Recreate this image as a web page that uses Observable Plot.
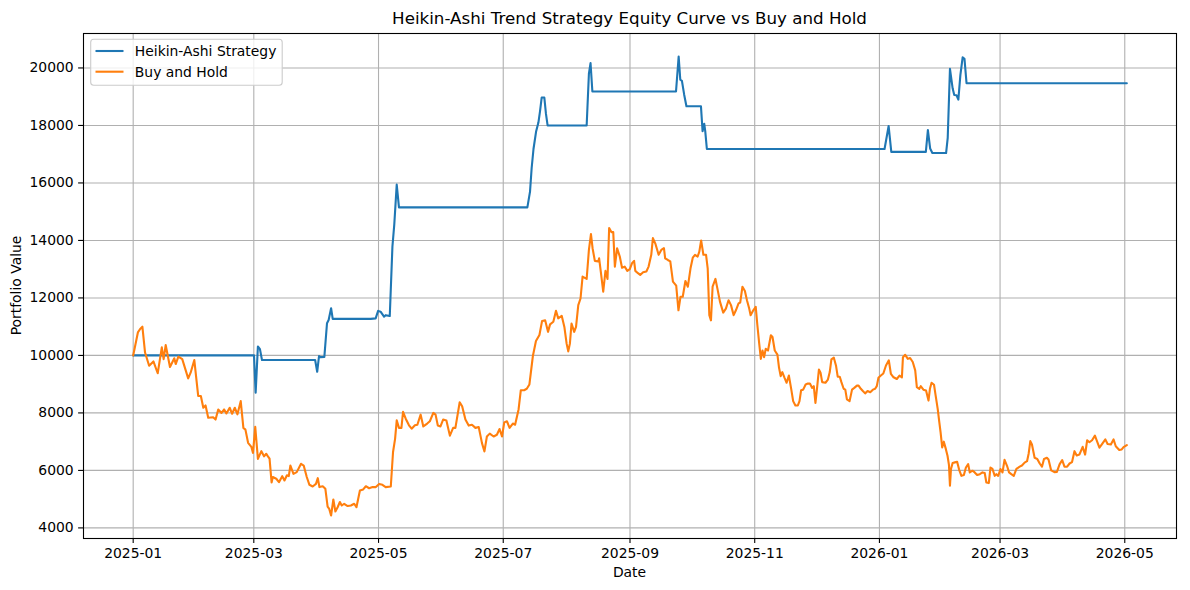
<!DOCTYPE html>
<html>
<head>
<meta charset="utf-8">
<script src="https://cdn.jsdelivr.net/npm/d3@7"></script>
<script src="https://cdn.jsdelivr.net/npm/@observablehq/plot@0.6"></script>
<style>
  html, body { margin: 0; padding: 0; background: #ffffff; }
  #chart svg { display: block; font-family: "DejaVu Sans", sans-serif; }
</style>
</head>
<body>
<div id="chart"></div>
<script>
// ---------------- data ----------------
const titleText = "Heikin-Ashi Trend Strategy Equity Curve vs Buy and Hold";
const xLabel = "Date";
const yLabel = "Portfolio Value";
const startDate = "2025-01-01";          // day 0 of the series
const seriesNames = ["Heikin-Ashi Strategy", "Buy and Hold"];
const seriesColors = ["#1f77b4", "#ff7f0e"];

// [days since startDate, portfolio value]
const strategy = [
  [0,10000],[59.1,10000],[59.9,8700],[61,10310],[62,10220],[63,9840],[89,9840],[90,9430],
  [90.9,9980],[91.6,9940],[93.5,9950],[94.8,11120],[95.6,11230],[96.8,11640],[97.6,11270],
  [116.2,11270],[118.6,11290],[119.8,11550],[121,11520],[122.7,11350],[123.5,11400],[125.5,11370],
  [126.8,13790],[127.7,14550],[128.9,15940],[130,15150],[192.8,15150],[194.1,15700],[194.9,16520],
  [195.8,17180],[197.1,17800],[198.2,18100],[199,18500],[199.8,18970],[201.1,18970],[201.9,18400],
  [202.7,18000],[221.8,18000],[222.9,19800],[223.7,20170],[224.6,19180],[265.5,19180],[266.8,20400],
  [267.6,19590],[268.4,19550],[269.5,19070],[270.6,18670],[277.7,18670],[278.5,17800],[279.3,18060],
  [279.8,17800],[280.6,17180],[367.5,17180],[369.5,17980],[370.8,17080],[387.7,17080],[388.7,17840],
  [389.8,17200],[390.9,17040],[397.6,17040],[398.4,17570],[399.5,19970],[400.8,19290],[401.6,19060],
  [402.7,19050],[403.6,18900],[404.6,19760],[405.7,20370],[406.6,20320],[407.6,19470],[486,19470]
];

const buyHold = [
  [0,10000],[2.3,10800],[3.4,10920],[4.5,11000],[5.8,10100],[7.8,9640],[9.9,9790],[12,9380],
  [14,10280],[14.9,9870],[15.9,10360],[18,9600],[20.1,9900],[20.8,9700],[22.1,9960],[24,9870],
  [26.9,9200],[28.1,9400],[29.9,9840],[31.8,8590],[33.1,8590],[34.3,8180],[35.4,8260],[36.7,7830],
  [39.1,7850],[40.3,7770],[41.6,8120],[43.2,8000],[44.5,8120],[45.6,7980],[47.2,8180],[48.4,7970],
  [49.7,8180],[51,7950],[52.6,8410],[53.9,7480],[54.9,7420],[56.2,6960],[57.8,6820],[58.6,6610],
  [59.7,7520],[61,6400],[62.7,6670],[64,6490],[65.1,6580],[65.9,6490],[66.7,6410],[67.7,5580],
  [68.3,5770],[70,5710],[71.3,5590],[72.9,5800],[74,5650],[75.2,5830],[76.1,5800],[76.9,6170],
  [78.4,5880],[80,5940],[82.1,6230],[83.4,6170],[84.9,5770],[86.2,5500],[87.8,5440],[89.4,5530],
  [90.3,5730],[91.1,5420],[92.7,5450],[94,5360],[95.1,4740],[95.9,4660],[96.8,4430],[97.9,4990],
  [98.9,4570],[100,4720],[101.1,4900],[102,4780],[103.2,4840],[104.9,4760],[106.5,4780],[108.1,4840],
  [109.2,4720],[110.9,5300],[112.5,5340],[113.8,5450],[115.4,5380],[117.1,5420],[118.7,5420],[120.3,5530],
  [121.9,5500],[123.5,5420],[126,5440],[127.1,6640],[128.1,7100],[128.9,7740],[130,7480],[131.2,7480],
  [132,8040],[133.3,7800],[134.9,7570],[136.2,7450],[137.8,7570],[139,7590],[140.6,7940],[141.9,7530],
  [143.8,7630],[145.1,7710],[146.8,8000],[147.9,7940],[149,7560],[150.3,7530],[151.6,7770],[153.2,7740],
  [154.9,7210],[156.5,7480],[157.6,7480],[159.7,8370],[160.9,8230],[162.5,7770],[164.1,7560],[165.7,7590],
  [167.4,7480],[169,7510],[170.6,6950],[171.8,6660],[173,7180],[174.4,7280],[176.3,7180],[177.9,7240],
  [179.2,7440],[180.4,7180],[181.5,7670],[182.8,7710],[184.1,7480],[185.7,7630],[186.8,7590],[188.5,8120],
  [189.6,8790],[191.2,8790],[192.5,8840],[193.8,8990],[195.5,9980],[197,10500],[198.7,10710],[200,11200],
  [201.5,11220],[202.9,10820],[203.9,11080],[205.5,11170],[206.8,11550],[207.9,11290],[209.6,11380],[210.9,10990],
  [212,10410],[212.8,10140],[213.6,10410],[214.4,11110],[215.7,10820],[216.6,10990],[217.7,11750],[218.8,11980],
  [219.8,12740],[221.8,12660],[222.9,13670],[223.9,14220],[224.7,13730],[225.8,13290],[227.5,13270],[227.9,13380],
  [228.7,12920],[229.9,12220],[231,12940],[232,12660],[232.8,14430],[233.9,14290],[234.8,14290],[235.6,13090],
  [236.7,13730],[238,13440],[239.1,13050],[240.4,13090],[241.7,12940],[242.9,13000],[244,13210],[245,13290],
  [245.6,12940],[246.9,12860],[248,12800],[249.4,12890],[251,12920],[252.1,13090],[253.4,13500],[254.2,14080],
  [255.5,13870],[257,13500],[258.3,13670],[259.6,13730],[260.2,13380],[261.5,13320],[262.7,13270],[264,12570],
  [265.6,12430],[266.1,12040],[266.7,11570],[267.7,12040],[268.8,12040],[270.1,12590],[271.3,12390],[272.6,13030],
  [273.7,13400],[274.8,13500],[276.1,13440],[276.9,13610],[277.8,14000],[278.9,13500],[280.2,13500],[281,13030],
  [281.8,11400],[282.6,11220],[283.4,12390],[284.8,12660],[285.9,12270],[287,11870],[288.6,11490],[289.9,11630],
  [291.2,11920],[292.4,11750],[293.7,11400],[294.8,11570],[296.1,11810],[296.9,11840],[298,12390],[299.2,12240],
  [300.2,11920],[301.3,11630],[302,11400],[303.3,11570],[304.5,11690],[305.3,11050],[306.2,10410],[307,9880],
  [307.8,10170],[308.6,9940],[309.4,10230],[310.5,10170],[311.9,10700],[312.7,10640],[313.8,10170],[315.1,10030],
  [315.9,9570],[316.7,9280],[317.5,9420],[318.6,9220],[319.6,9050],[320.7,9300],[321.9,8810],[322.8,8410],
  [323.9,8260],[325.1,8260],[325.9,8410],[326.7,8790],[327.7,8810],[328.9,8990],[330,9020],[331,9020],
  [332.1,8870],[332.9,8930],[333.7,8350],[334.5,8870],[335.4,9510],[336.2,9400],[337,9070],[338.6,9050],
  [339.8,9160],[340.7,9420],[341.5,9860],[342.7,9920],[343.8,9630],[344.6,9260],[345.6,9260],[346.4,9070],
  [347.5,8840],[348.3,8810],[349.1,8470],[350.4,8410],[351.6,8810],[352.7,8870],[354,8950],[354.8,8950],
  [355.9,8840],[356.9,8760],[358,8680],[359.2,8760],[360.5,8720],[361.8,8810],[362.9,8840],[363.7,8930],
  [364.5,9220],[365.7,9300],[366.9,9370],[368.2,9650],[369.6,9830],[370.6,9360],[371.9,9240],[373.5,9180],
  [374.8,9300],[376,9240],[376.5,9940],[377.6,10020],[378.9,9880],[380,9910],[381.3,9770],[382.5,9480],
  [383.3,8900],[384.5,8840],[385.2,8930],[386.5,8810],[387.8,8780],[389,8430],[389.7,8840],[390.5,9050],
  [391.7,8980],[392.5,8600],[393.5,8140],[394.3,7670],[394.9,7330],[395.7,6800],[396.5,7000],[397.5,6740],
  [398.3,6510],[399,6190],[399.5,5470],[400,6050],[400.8,6260],[401.9,6280],[403,6300],[404,6020],
  [405.1,5810],[406.3,5840],[407.3,6100],[408.4,6220],[409.2,5930],[410.5,5990],[411.6,5930],[412.8,5840],
  [414.1,5870],[415.4,5930],[416.5,5910],[417.3,5580],[418.5,5560],[419.3,6100],[420.3,6050],[421.4,5810],
  [422.2,5870],[423.1,5810],[424.2,6050],[425.2,5930],[426.2,6370],[427.4,6160],[428.4,5930],[429.5,5870],
  [430.7,5810],[432,6050],[433.6,6130],[434.7,6170],[436,6270],[437.2,6320],[438,6590],[438.8,7020],
  [439.6,6900],[440.9,6440],[442.2,6400],[443.4,6240],[444.5,6130],[445.5,6400],[446.9,6440],[447.7,6380],
  [449,6000],[450.6,5940],[451.8,5950],[453.1,6210],[454.4,6360],[455.5,6130],[456.8,6130],[458,6240],
  [459.2,6290],[460.4,6670],[461.5,6520],[462.8,6550],[464.4,6820],[465.6,6550],[466.6,7050],[467.7,6980],
  [469,7050],[470.4,7210],[471.4,7020],[472.6,6790],[473.7,6900],[475.5,7080],[476.6,6920],[478.2,6900],
  [479.5,7080],[480.6,6840],[482.3,6710],[483.5,6730],[484.4,6810],[486,6880]
];

const xTickLabels = ["2025-01","2025-03","2025-05","2025-07","2025-09","2025-11","2026-01","2026-03","2026-05"];
const yTicks = [4000, 6000, 8000, 10000, 12000, 14000, 16000, 18000, 20000];

// ---------------- build ----------------
const W = 1190, H = 590;
const margin = {left: 83, right: 14, top: 33, bottom: 52};
const start = d3.utcParse("%Y-%m-%d")(startDate);
const toDate = d => new Date(start.getTime() + d * 864e5);

const rows = [];
strategy.forEach(([d, v]) => rows.push({date: toDate(d), value: v, series: seriesNames[0]}));
buyHold.forEach(([d, v]) => rows.push({date: toDate(d), value: v, series: seriesNames[1]}));

// matplotlib-like 5% auto margins
const allDays = strategy.concat(buyHold).map(p => p[0]);
const allVals = strategy.concat(buyHold).map(p => p[1]);
const [d0, d1] = d3.extent(allDays);
const [v0, v1] = d3.extent(allVals);
const xDomain = [toDate(d0 - 0.05 * (d1 - d0)), toDate(d1 + 0.05 * (d1 - d0))];
const yDomain = [v0 - 0.05 * (v1 - v0), v1 + 0.05 * (v1 - v0)];
const xTicks = xTickLabels.map(d3.utcParse("%Y-%m"));

const gridStyle = {stroke: "#b0b0b0", strokeOpacity: 1, strokeWidth: 1.1};

const chart = Plot.plot({
  width: W,
  height: H,
  marginLeft: margin.left,
  marginRight: margin.right,
  marginTop: margin.top,
  marginBottom: margin.bottom,
  style: {fontFamily: "DejaVu Sans, sans-serif", fontSize: "13.9px", background: "#ffffff", color: "#000000"},
  x: {type: "utc", domain: xDomain},
  y: {type: "linear", domain: yDomain},
  color: {domain: seriesNames, range: seriesColors},
  marks: [
    Plot.gridX(xTicks, gridStyle),
    Plot.gridY(yTicks, gridStyle),
    Plot.line(rows, {x: "date", y: "value", z: "series", stroke: "series", strokeWidth: 2.1, strokeLinejoin: "round"}),
    Plot.frame({stroke: "#000000", strokeWidth: 1.1}),
    Plot.axisX({ticks: xTicks, tickFormat: d3.utcFormat("%Y-%m"), tickSize: 4.9, tickPadding: 4.9, strokeWidth: 1.1, fontSize: 13.9, label: null}),
    Plot.axisY({ticks: yTicks, tickFormat: d => String(d), tickSize: 4.9, tickPadding: 4.9, strokeWidth: 1.1, fontSize: 13.9, label: null})
  ]
});

document.getElementById("chart").appendChild(chart);

// ---------------- title, axis labels, legend ----------------
const svg = d3.select(chart);
const cx = (margin.left + W - margin.right) / 2;
const cy = (margin.top + H - margin.bottom) / 2;

svg.append("text")
  .attr("x", cx).attr("y", 18).attr("dy", "0.35em")
  .attr("text-anchor", "middle")
  .style("font-size", "16.7px").style("font-family", "DejaVu Sans, sans-serif")
  .attr("fill", "#000").text(titleText);

svg.append("text")
  .attr("x", cx).attr("y", 572).attr("dy", "0.35em")
  .attr("text-anchor", "middle")
  .style("font-size", "13.9px").style("font-family", "DejaVu Sans, sans-serif")
  .attr("fill", "#000").text(xLabel);

svg.append("text")
  .attr("transform", `translate(16,${cy}) rotate(-90)`)
  .attr("dy", "0.35em")
  .attr("text-anchor", "middle")
  .style("font-size", "13.9px").style("font-family", "DejaVu Sans, sans-serif")
  .attr("fill", "#000").text(yLabel);

const legend = svg.append("g").attr("text-anchor", "start");
legend.append("rect")
  .attr("x", 90.7).attr("y", 39.2).attr("width", 191.5).attr("height", 46)
  .attr("rx", 3).attr("fill", "#ffffff").attr("fill-opacity", 0.8)
  .attr("stroke", "#cccccc").attr("stroke-width", 1.1);
seriesNames.forEach((name, i) => {
  const y = 51 + i * 20.7;
  legend.append("line")
    .attr("x1", 95.5).attr("x2", 123.5).attr("y1", y).attr("y2", y)
    .attr("stroke", seriesColors[i]).attr("stroke-width", 2.1);
  legend.append("text")
    .attr("x", 134.8).attr("y", y).attr("dy", "0.35em")
    .attr("text-anchor", "start")
    .style("font-size", "13.9px").style("font-family", "DejaVu Sans, sans-serif")
    .attr("fill", "#000").text(name);
});
</script>
</body>
</html>
